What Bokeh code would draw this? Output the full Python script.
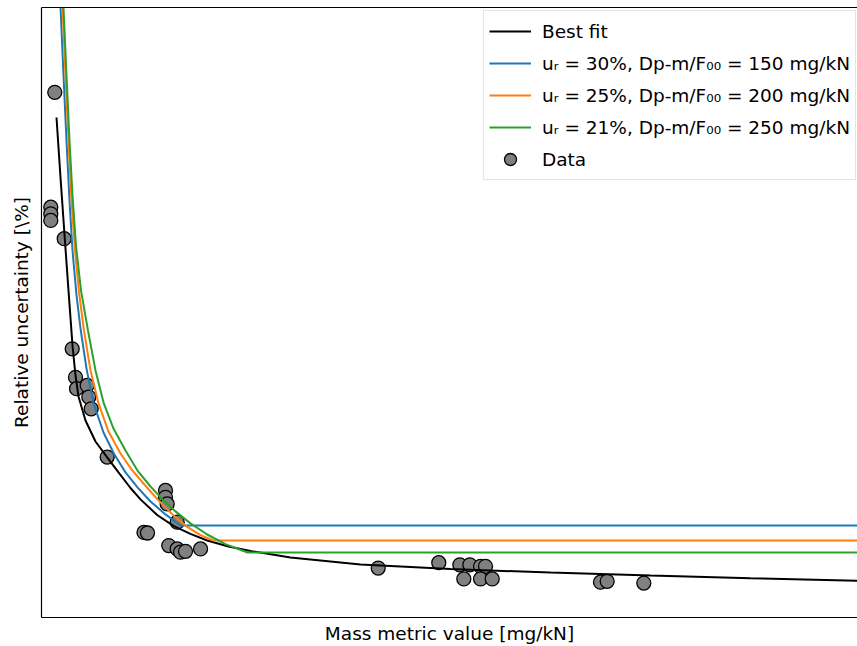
from bokeh.plotting import figure
from bokeh.models import Range1d, LinearAxis, FixedTicker, Legend, LegendItem
from bokeh.embed import file_html
from bokeh.resources import INLINE

# ---- data (mass metric value in mg/kN, relative uncertainty in %) ----
data_x = [16.6, 11.6, 11.6, 11.6, 28.4, 38.4, 42.5, 43.8, 57.1, 59.1, 62.1, 82.1,
          155.0, 155.0, 157.1, 169.6, 128.1, 132.5, 159.1, 169.6, 173.8, 180.0, 198.8,
          420.9, 496.6, 522.9, 535.4, 548.8, 555.0, 527.9, 548.8, 563.4, 698.8, 707.1, 752.9]
data_y = [174.4, 136.1, 133.9, 131.7, 125.6, 88.9, 79.4, 75.6, 76.7, 72.8, 68.9, 52.8,
          41.7, 39.4, 37.2, 31.1, 27.7, 27.5, 23.3, 22.2, 21.1, 21.4, 22.2,
          15.8, 17.6, 16.9, 16.9, 16.4, 16.4, 12.2, 12.2, 12.2, 11.1, 11.4, 10.8]

fit_x = [18.75, 23.75, 28.75, 33.75, 38.75, 42.5, 46.25, 55.0, 67.5, 82.1, 96.25, 111.25,
         123.75, 144.6, 165.4, 186.25, 207.1, 233.75, 261.25, 311.25, 398.75, 511.25,
         636.25, 761.25, 886.25, 1020.0]
fit_y = [166.0, 146.0, 127.0, 108.3, 90.0, 80.0, 73.0, 65.0, 58.0, 52.7, 47.7, 42.5,
         38.7, 33.5, 29.8, 27.2, 25.0, 23.0, 21.5, 19.3, 17.0, 15.5, 14.3, 13.3, 12.4, 11.6]

ur30_x = [23.4, 27.5, 31.25, 35.0, 38.75, 43.75, 49.1, 56.25, 65.0, 77.5, 90.4, 105.0,
          120.0, 136.25, 155.0, 173.75, 1020.0]
ur30_y = [205.0, 180.0, 158.3, 138.3, 121.7, 106.7, 95.0, 82.3, 70.7, 61.0, 54.0, 47.7,
          42.7, 38.0, 33.7, 30.0, 30.0]

ur25_x = [25.9, 30.0, 33.75, 37.5, 41.9, 46.9, 53.1, 61.25, 71.25, 83.75, 98.75, 112.5,
          127.5, 145.0, 163.75, 181.25, 198.75, 215.0, 1020.0]
ur25_y = [205.0, 180.0, 158.3, 138.3, 121.7, 107.7, 95.0, 81.7, 70.7, 61.3, 54.0, 48.7,
          44.0, 38.7, 33.7, 29.7, 26.8, 25.0, 25.0]

ur21_x = [27.1, 31.25, 35.0, 38.75, 43.1, 49.4, 58.1, 67.5, 77.9, 90.0, 105.0, 120.0,
          136.25, 151.25, 167.5, 186.25, 207.1, 230.0, 257.5, 1020.0]
ur21_y = [205.0, 180.0, 158.3, 140.0, 123.3, 108.3, 95.0, 81.7, 70.7, 62.3, 55.0, 48.3,
          43.0, 38.7, 34.7, 30.7, 27.0, 23.8, 21.0, 21.0]

labels = ["Best fit",
          "u\u1d63 = 30%, Dp-m/F\u2080\u2080 = 150 mg/kN",
          "u\u1d63 = 25%, Dp-m/F\u2080\u2080 = 200 mg/kN",
          "u\u1d63 = 21%, Dp-m/F\u2080\u2080 = 250 mg/kN",
          "Data"]

FONT = "DejaVu Sans"

p = figure(width=857, height=646, x_range=Range1d(0, 1020), y_range=Range1d(-0.67, 202.67),
           output_backend="svg", toolbar_location=None,
           min_border_left=41, min_border_right=0, min_border_top=7, min_border_bottom=29,
           x_axis_label="Mass metric value [mg/kN]",
           y_axis_label="Relative uncertainty [\\%]")
p.outline_line_color = None
p.grid.visible = False
p.background_fill_color = "white"

top_axis = LinearAxis()
p.add_layout(top_axis, "above")

for ax in p.axis:
    ax.ticker = FixedTicker(ticks=[])
    ax.major_tick_line_color = None
    ax.minor_tick_line_color = None
    ax.major_tick_out = 0
    ax.major_tick_in = 0
    ax.minor_tick_out = 0
    ax.major_label_standoff = 0
    ax.major_label_text_font_size = "0px"
    ax.axis_line_color = "black"
    ax.axis_line_width = 1.2
    ax.axis_label_text_font = FONT
    ax.axis_label_text_font_size = "18.5px"
    ax.axis_label_text_font_style = "normal"
    ax.axis_label_text_color = "black"

p.xaxis[0].axis_label_standoff = 4
p.yaxis[0].axis_label_standoff = 10

sc = p.scatter(data_x, data_y, size=14, fill_color="#808080", line_color="black", line_width=1.3)
l_fit = p.line(fit_x, fit_y, line_color="black", line_width=2)
l30 = p.line(ur30_x, ur30_y, line_color="#1f77b4", line_width=2)
l25 = p.line(ur25_x, ur25_y, line_color="#ff7f0e", line_width=2)
l21 = p.line(ur21_x, ur21_y, line_color="#2ca02c", line_width=2)

legend = Legend(items=[LegendItem(label=labels[0], renderers=[l_fit]),
                       LegendItem(label=labels[1], renderers=[l30]),
                       LegendItem(label=labels[2], renderers=[l25]),
                       LegendItem(label=labels[3], renderers=[l21]),
                       LegendItem(label=labels[4], renderers=[sc])],
                location=(442, 437))
legend.label_text_font = FONT
legend.label_text_font_size = "18.5px"
legend.label_text_color = "black"
legend.glyph_width = 42
legend.glyph_height = 30
legend.label_height = 30
legend.label_standoff = 11
legend.spacing = 2
legend.padding = 5
legend.margin = 0
legend.border_line_color = "#cccccc"
legend.border_line_width = 1
legend.background_fill_alpha = 0.8
p.add_layout(legend)

open("out.html", "w").write(file_html(p, INLINE))
